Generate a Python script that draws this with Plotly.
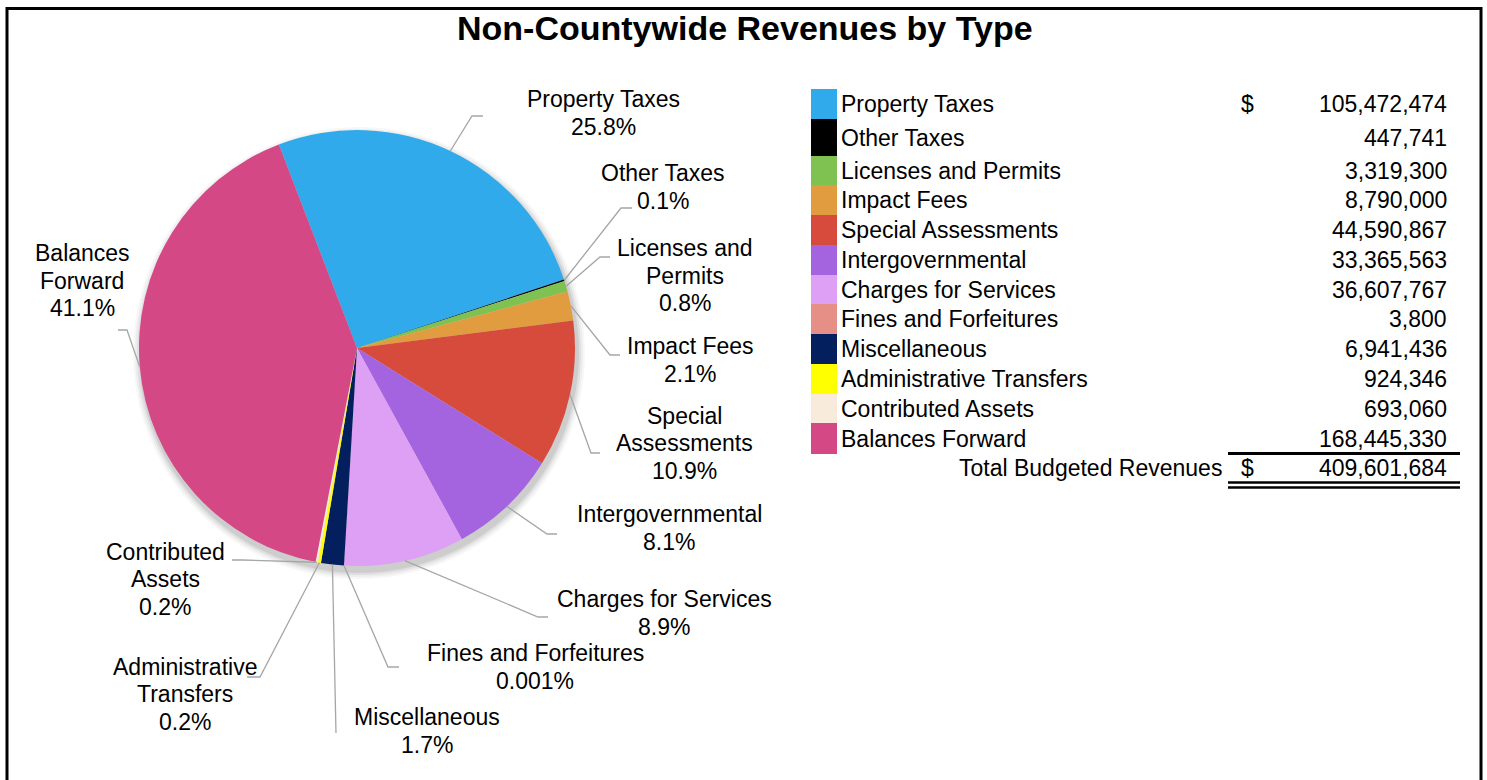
import math
import plotly.graph_objects as go

W, H = 1487, 780
FONT = "Liberation Sans, Arial, sans-serif"

# ---- data -------------------------------------------------------------
categories = [
    "Property Taxes", "Other Taxes", "Licenses and Permits", "Impact Fees",
    "Special Assessments", "Intergovernmental", "Charges for Services",
    "Fines and Forfeitures", "Miscellaneous", "Administrative Transfers",
    "Contributed Assets", "Balances Forward",
]
revenues = [
    105472474, 447741, 3319300, 8790000, 44590867, 33365563, 36607767,
    3800, 6941436, 924346, 693060, 168445330,
]
# slice label text, wrapped over lines
pie_label_lines = [
    ["Property Taxes"], ["Other Taxes"], ["Licenses and", "Permits"],
    ["Impact Fees"], ["Special", "Assessments"], ["Intergovernmental"],
    ["Charges for Services"], ["Fines and Forfeitures"], ["Miscellaneous"],
    ["Administrative", "Transfers"], ["Contributed", "Assets"],
    ["Balances", "Forward"],
]
total_label = "Total Budgeted Revenues"

# ---- styles / layout positions (pixels) ---------------------------------
colors = [
    "#30AAEA", "#000000", "#7FC251", "#E29C40", "#D64B3B", "#A463DF",
    "#DDA0F4", "#E68F86", "#031F5E", "#FFFF00", "#F8EBDC", "#D54886",
]
TXT = 23
LINE_GAP = 27.5
pie_cx, pie_cy, pie_r = 357, 348, 218
start_angle = -21  # degrees clockwise from 12 o'clock

label_xy = [(603, 113), (663, 187), (685, 276), (690, 360), (684, 443),
            (669, 528), (664, 613), (535, 667), (427, 731), (185, 694),
            (165, 579), (82, 281)]
leader_elbow = [(472, 116), (621, 208), (600, 257), (610, 355), (591, 453),
                (547, 534), (538, 617), (388, 667), (336, 733), (260, 677),
                (242, 560), (127, 330)]
leader_end = [(483, 116), (632, 208), (610, 257), (620, 355), (600, 453),
              (557, 534), (548, 617), (399, 667), (336, 733), (247, 677),
              (232, 560), (118, 330)]

row_top = [89, 119, 156, 185, 215, 245, 275, 304, 334, 364, 394, 423]
row_bottom_last = 454
swatch_x0, swatch_x1 = 811, 837
name_x, dollar_x, value_right = 839, 1247, 1449
total_y = 468


def px(x):
    return x / W


def py(y):
    return 1 - y / H


def text_note(x, y, text, anchor="center", size=TXT):
    return dict(x=px(x), y=py(y), xref="paper", yref="paper", text=text,
                showarrow=False, xanchor=anchor, yanchor="middle",
                align="center",
                font=dict(family=FONT, size=size, color="#000000"))


total = sum(revenues)
shares = [v / total * 100 for v in revenues]


def pct_text(p):
    return f"{p:.3f}%" if p < 0.05 else f"{p:.1f}%"


fig = go.Figure()

fig.add_trace(go.Pie(
    labels=categories,
    values=revenues,
    sort=False,
    direction="clockwise",
    rotation=start_angle,
    marker=dict(colors=colors, line=dict(width=0)),
    textinfo="none",
    hoverinfo="label+value+percent",
    showlegend=False,
    domain=dict(x=[px(pie_cx - pie_r), px(pie_cx + pie_r)],
                y=[py(pie_cy + pie_r), py(pie_cy - pie_r)]),
))

shapes = []
annotations = []

# soft drop shadow under the pie
for grow, alpha in [(8, 0.03), (6, 0.04), (4, 0.06), (2, 0.08)]:
    cx, cy = pie_cx + 2, pie_cy + 5
    rr = pie_r + grow
    shapes.append(dict(type="circle", xref="paper", yref="paper",
                       x0=px(cx - rr), x1=px(cx + rr),
                       y0=py(cy + rr), y1=py(cy - rr),
                       fillcolor=f"rgba(0,0,0,{alpha})", line=dict(width=0),
                       layer="below"))

# slice labels with leader lines from each slice's mid-angle
cum = 0.0
for i, v in enumerate(revenues):
    mid = start_angle + (cum + v / 2) / total * 360
    cum += v
    a = math.radians(mid)
    sx = pie_cx + pie_r * math.sin(a)
    sy = pie_cy - pie_r * math.cos(a)
    ex, ey = leader_elbow[i]
    fx, fy = leader_end[i]
    path = f"M {px(sx)},{py(sy)} L {px(ex)},{py(ey)} L {px(fx)},{py(fy)}"
    shapes.append(dict(type="path", xref="paper", yref="paper", path=path,
                       line=dict(color="#A6A6A6", width=1.3)))
    lines = pie_label_lines[i] + [pct_text(shares[i])]
    lx, ly = label_xy[i]
    n = len(lines)
    for k, line in enumerate(lines):
        annotations.append(text_note(lx, ly + (k - (n - 1) / 2) * LINE_GAP, line))

# revenue table with colour swatches
row_edges = row_top + [row_bottom_last]
for i, name in enumerate(categories):
    y0, y1 = row_edges[i], row_edges[i + 1]
    yc = (y0 + y1) / 2
    shapes.append(dict(type="rect", xref="paper", yref="paper",
                       x0=px(swatch_x0), x1=px(swatch_x1),
                       y0=py(y1), y1=py(y0),
                       fillcolor=colors[i], line=dict(width=0)))
    annotations.append(text_note(name_x, yc, name, "left"))
    annotations.append(text_note(value_right, yc, f"{revenues[i]:,}", "right"))
    if i == 0:
        annotations.append(text_note(dollar_x, yc, "$"))

# total row
annotations.append(text_note(1224, total_y, total_label, "right"))
annotations.append(text_note(dollar_x, total_y, "$"))
annotations.append(text_note(value_right, total_y, f"{total:,}", "right"))
for yy, wd in [(453.5, 3), (482.5, 2.5), (487.5, 2.5)]:
    shapes.append(dict(type="line", xref="paper", yref="paper",
                       x0=px(1228), x1=px(1460), y0=py(yy), y1=py(yy),
                       line=dict(color="#000000", width=wd)))

# title
annotations.append(text_note(745, 28, "<b>Non-Countywide Revenues by Type</b>",
                             size=34))

# outer frame
shapes.append(dict(type="rect", xref="paper", yref="paper",
                   x0=px(7), x1=px(1481), y0=py(800), y1=py(8.5),
                   line=dict(color="#000000", width=3),
                   fillcolor="rgba(0,0,0,0)"))

fig.update_layout(
    width=W, height=H,
    margin=dict(l=0, r=0, t=0, b=0),
    paper_bgcolor="#FFFFFF", plot_bgcolor="#FFFFFF",
    shapes=shapes, annotations=annotations,
    showlegend=False,
)

fig.write_html("out.html")
